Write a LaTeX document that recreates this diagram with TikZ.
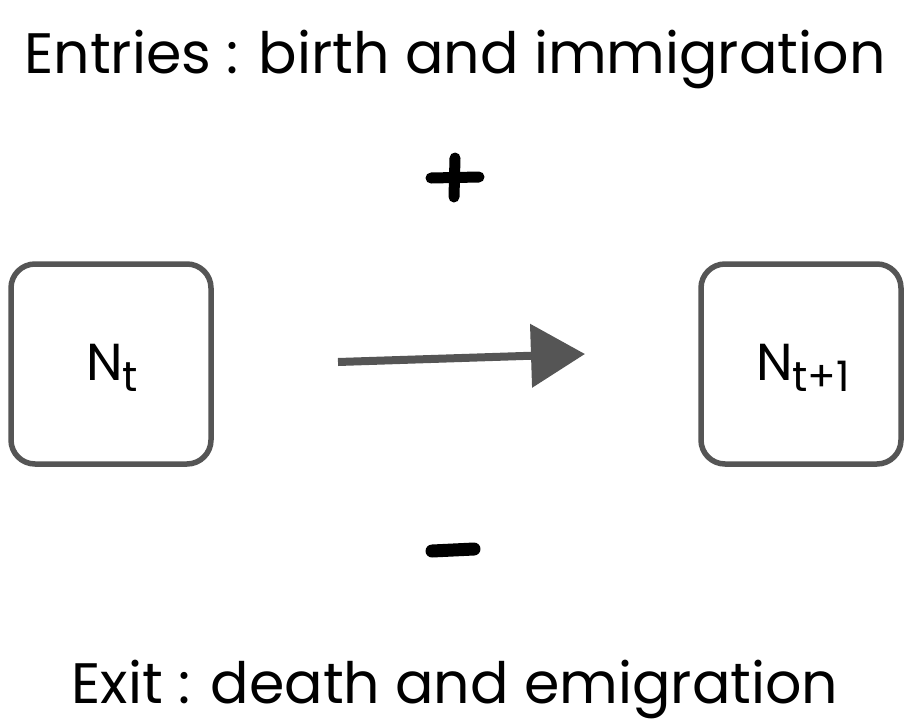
\documentclass[tikz,border=0pt]{standalone}
\usepackage{fontspec}
\setmainfont{Poppins}
\usetikzlibrary{arrows.meta,calc}
\definecolor{sketch}{HTML}{555555}
\tikzset{
  boxst/.style={draw=sketch, line width=5.5pt, rounded corners=24pt, minimum width=200pt, minimum height=200pt, inner sep=0pt},
  title/.style={font=\fontsize{57}{62}\selectfont, text=black, inner sep=0pt},
  sym/.style={draw=black, line width=11pt, line cap=round},
  lab/.style={font=\fontsize{52}{56}\selectfont, inner sep=0pt}
}
\newcommand{\mysub}[1]{\raisebox{-0.2em}{\fontsize{42}{46}\selectfont #1}}
\begin{document}
\begin{tikzpicture}[x=1pt,y=-1pt]
\useasboundingbox (0,0) rectangle (910,726);
\node[title] (top) at (455,60) {Entries : birth and immigration};
\node[title] (bot) at (455,689) {Exit : death and emigration};
\node[boxst] (nt) at (111,364) {};
\node[boxst] (nt1) at (801,364) {};
\node[lab] (ltxt) at (112,368) {N\mysub{t}};
\node[lab] (rtxt) at (803,368) {N\mysub{t+1}};
\coordinate (as) at (338,362);
\coordinate (ae) at (585,354);
\draw[draw=sketch, line width=8pt, -{Triangle[length=54pt,width=62pt]}] (as) -- (ae);
\coordinate (pc) at (455,180);
\draw[sym] ($(pc)+(-24,-2)$) -- ($(pc)+(24,-3)$);
\draw[sym] ($(pc)+(0,-22)$) -- ($(pc)+(-1,17)$);
\coordinate (mc) at (453,550);
\draw[sym, line width=13pt] ($(mc)+(-21,1)$) -- ($(mc)+(21,-1)$);
\end{tikzpicture}
\end{document}
